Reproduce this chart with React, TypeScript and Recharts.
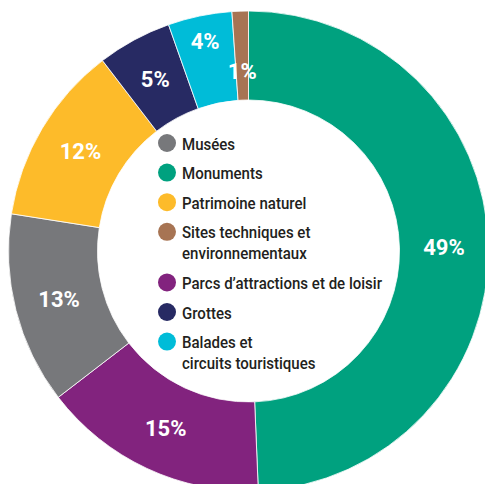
import { PieChart, Pie, Cell, Legend } from "recharts";

const categories = [
  "Monuments",
  "Parcs d’attractions et de loisir",
  "Musées",
  "Patrimoine naturel",
  "Grottes",
  "Balades et circuits touristiques",
  "Sites techniques et environnementaux",
];
// slice sizes as measured from the ring (the printed labels are rounded)
const shares = [49.3, 15.2, 12.9, 12.1, 5.0, 4.3, 1.1];
const shareLabels = ["49%", "15%", "13%", "12%", "5%", "4%", "1%"];
const colors = ["#00a17f", "#82237e", "#77787b", "#fdbb2a", "#272a63", "#00bcd8", "#a77453"];

const legendItems = [
  ["Musées"],
  ["Monuments"],
  ["Patrimoine naturel"],
  ["Sites techniques et", "environnementaux"],
  ["Parcs d’attractions et de loisir"],
  ["Grottes"],
  ["Balades et", "circuits touristiques"],
];
const legendColors = ["#77787b", "#00a17f", "#fdbb2a", "#a77453", "#82237e", "#272a63", "#00bcd8"];

const RAD = Math.PI / 180;
const labelShift = [0, 0, 0, 0, 0, 18, -16];

const renderLabel = (props: any) => {
  const { cx, cy, midAngle, innerRadius, outerRadius, index } = props;
  const r = (innerRadius + outerRadius) / 2 + labelShift[index];
  const x = cx + r * Math.cos(-midAngle * RAD);
  const y = cy + r * Math.sin(-midAngle * RAD);
  return (
    <text
      x={x}
      y={y}
      fill="#fff"
      textAnchor="middle"
      dominantBaseline="central"
      fontFamily="Roboto"
      fontWeight={700}
      fontSize={22}
    >
      {shareLabels[index]}
    </text>
  );
};

const LEFT = 150;
const TOP = 125;

const renderLegend = () => {
  let y = 143;
  const rows = legendItems.map((lines, i) => {
    const rowY = y;
    y += 29.6 + 21 * (lines.length - 1);
    return (
      <g key={lines[0]}>
        <circle cx={167 - LEFT} cy={rowY - TOP} r={9} fill={legendColors[i]} />
        {lines.map((line, j) => (
          <text
            key={line}
            transform={`translate(${182 - LEFT} ${rowY - TOP + 6.5 + j * 21}) scale(0.885 1)`}
            fontFamily="Roboto"
            fontWeight={500}
            fontSize={17}
            fill="#231f20"
          >
            {line}
          </text>
        ))}
      </g>
    );
  });
  return (
    <svg width={250} height={250} style={{ display: "block" }}>
      {rows}
    </svg>
  );
};

export default function App() {
  const data = categories.map((name, i) => ({ name, value: shares[i] }));

  return (
    <div style={{ position: "absolute", left: 0, top: 0, background: "#fff" }}>
      <PieChart width={485} height={484} margin={{ top: 0, right: 0, bottom: 0, left: 0 }}>
        <Pie
          data={data}
          dataKey="value"
          nameKey="name"
          cx={248.5}
          cy={251}
          innerRadius={151}
          outerRadius={240}
          startAngle={90}
          endAngle={-270}
          stroke="#fff"
          strokeWidth={0.8}
          label={renderLabel}
          labelLine={false}
          isAnimationActive={false}
        >
          {data.map((d, i) => (
            <Cell key={d.name} fill={colors[i]} />
          ))}
        </Pie>
        <Legend
          content={renderLegend}
          wrapperStyle={{ position: "absolute", left: LEFT, top: TOP, width: 250, height: 250 }}
        />
      </PieChart>
    </div>
  );
}
